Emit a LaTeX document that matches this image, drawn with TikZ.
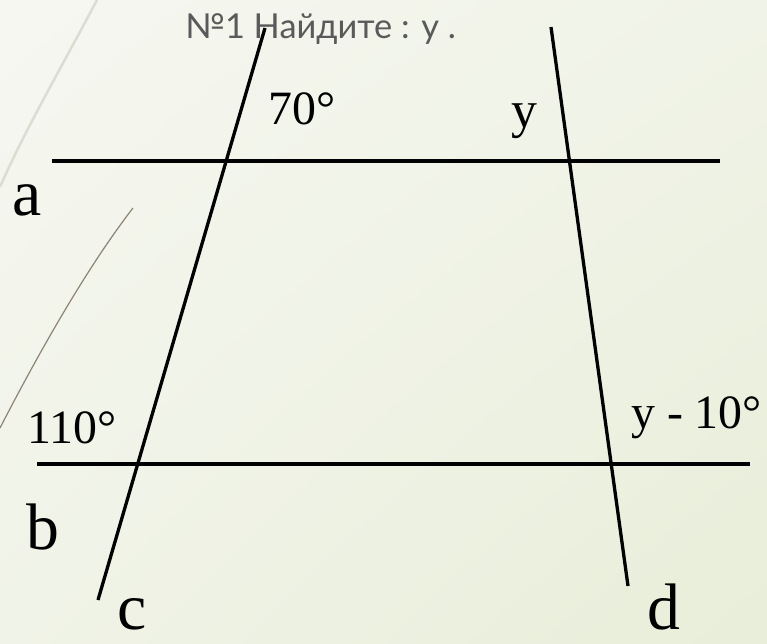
\documentclass[tikz,border=0pt]{standalone}
\usepackage{fontspec}
\usetikzlibrary{shadings}
\setmainfont{Liberation Serif}
\newfontfamily\titlefont{Lato}
\definecolor{bgA}{HTML}{F6F7F1}
\definecolor{bgB}{HTML}{E8EED9}
\definecolor{bgC}{HTML}{F0F3E7}
\definecolor{titlegray}{HTML}{5A5A5A}
\definecolor{decoA}{HTML}{DCDDD2}
\definecolor{decoB}{HTML}{8C8474}
\tikzset{
  geoline/.style={line width=3.3bp, black},
  letterlbl/.style={anchor=base west, inner sep=0pt, font=\fontsize{66}{68}\selectfont},
  numlbl/.style={anchor=base west, inner sep=0pt, font=\fontsize{48}{50}\selectfont},
}
\begin{document}
\begin{tikzpicture}[x=1bp,y=-1bp]
\useasboundingbox (0,0) rectangle (767,644);
\shade[upper left=bgA, lower right=bgB, upper right=bgC, lower left=bgC] (0,0) rectangle (767,644);
% decorative curves
\draw[decoA, line width=2.5bp] (97,0) .. controls (60,70) and (25,130) .. (0,187);
\draw[decoB, line width=1.2bp] (133,208) .. controls (85,270) and (35,360) .. (0,428);
% geometry points
\coordinate (a1) at (52,161);
\coordinate (a2) at (720,161);
\coordinate (b1) at (37,464);
\coordinate (b2) at (750,464);
\coordinate (c1) at (265,28);
\coordinate (c2) at (98,600);
\coordinate (d1) at (551,27);
\coordinate (d2) at (628,586);
\draw[geoline] (a1) -- (a2);
\draw[geoline] (b1) -- (b2);
\draw[geoline] (c1) -- (c2);
\draw[geoline] (d1) -- (d2);
% title
\node[anchor=base west, inner sep=0pt, text=titlegray, font=\titlefont\fontsize{34.5}{36}\selectfont] (title) at (185,39) {№1 Найдите : y .};
% labels
\node[letterlbl] (la) at (12,216) {a};
\node[letterlbl] (lb) at (26,549) {b};
\node[letterlbl] (lc) at (117,629) {c};
\node[letterlbl] (ld) at (647,629) {d};
\node[numlbl] (l70) at (268,125) {70°};
\node[numlbl, font=\fontsize{52}{54}\selectfont] (ly) at (511,128) {y};
\node[numlbl] (l110) at (27,443) {110°};
\node[numlbl] (ly10) at (631,428) {y - 10°};
\end{tikzpicture}
\end{document}
